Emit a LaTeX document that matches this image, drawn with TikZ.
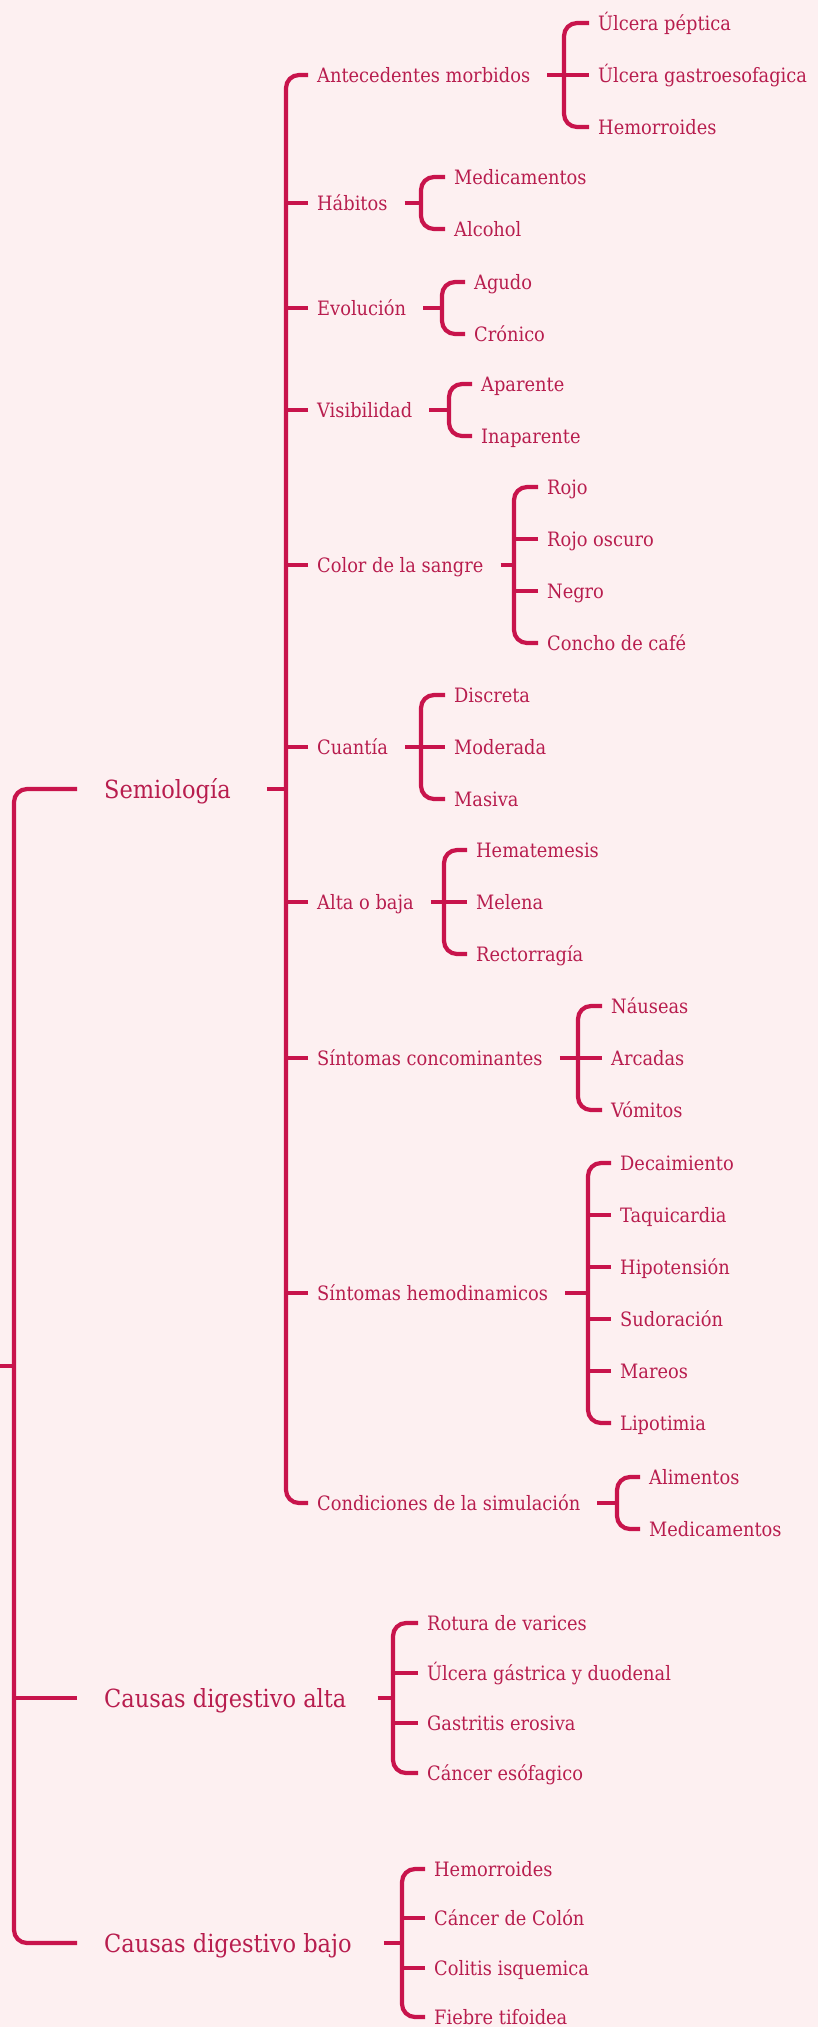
\documentclass[tikz,border=0pt]{standalone}
\usepackage{fontspec}
\setmainfont{DejaVu Serif Condensed}
\usepackage{tikz}
\usetikzlibrary{calc}
\definecolor{crim}{HTML}{C8144C}
\definecolor{crimtext}{HTML}{B81D4E}
\definecolor{paper}{HTML}{FDF0F1}
\tikzset{
  brk/.style={draw=crim, line width=4.2pt, rounded corners=13pt},
  top/.style={anchor=west, inner sep=0pt, text height=18pt, text depth=0pt, text=crimtext, font=\fontsize{25}{29}\selectfont},
  sub/.style={anchor=west, inner sep=0pt, text height=14.5pt, text depth=0pt, text=crimtext, font=\fontsize{19.8}{24}\selectfont},
}

\begin{document}
\begin{tikzpicture}[x=1pt, y=-1pt]
  \fill[paper] (0,0) rectangle (818,2027);
  \useasboundingbox (0,0) rectangle (818,2027);

  % root
  \coordinate (root) at (0,1366);
  \coordinate (root-b) at (14,1366);
  \node[top] (sem) at (104,789) {Semiología};
  \node[top] (alta) at (104,1698) {Causas digestivo alta};
  \node[top] (bajo) at (104,1943) {Causas digestivo bajo};
  \draw[brk] (root) -- (root-b);
  \draw[brk] ([xshift=-27]sem.west) -| (root-b) |- ([xshift=-27]bajo.west);
  \draw[brk] ([xshift=-27]alta.west) -- (root-b |- alta.west);

  % Semiologia
  \coordinate (sem-b) at (286,789);
  \foreach \n/\y/\t in {ant/75/Antecedentes morbidos, hab/203/Hábitos, evo/308/Evolución,
      vis/410/Visibilidad, col/565/Color de la sangre, cua/747/Cuantía, alt/902/Alta o baja,
      sin/1058/Síntomas concominantes, hem/1293/Síntomas hemodinamicos,
      con/1503/Condiciones de la simulación}
    \node[sub] (\n) at (317,\y) {\t};
  \draw[brk] ([xshift=36]sem.east) -- (sem-b);
  \draw[brk] ([xshift=-9]ant.west) -| (sem-b) |- ([xshift=-9]con.west);
  \foreach \n in {hab,evo,vis,col,cua,alt,sin,hem}
    \draw[brk] ([xshift=-9]\n.west) -- (sem-b |- \n.west);

  % Antecedentes
  \coordinate (ant-b) at (564,75);
  \foreach \y/\t [count=\i] in {23/Úlcera péptica, 75/Úlcera gastroesofagica, 127/Hemorroides}
    \node[sub] (ant-\i) at (598,\y) {\t};
  \draw[brk] ([xshift=17]ant.east) -- (ant-b);
  \draw[brk] ([xshift=-9]ant-1.west) -| (ant-b) |- ([xshift=-9]ant-3.west);
  \draw[brk] ([xshift=-9]ant-2.west) -- (ant-b |- ant-2.west);

  % Habitos
  \coordinate (hab-b) at (421,203);
  \foreach \y/\t [count=\i] in {177/Medicamentos, 229/Alcohol}
    \node[sub] (hab-\i) at (454,\y) {\t};
  \draw[brk] ([xshift=17]hab.east) -- (hab-b);
  \draw[brk] ([xshift=-9]hab-1.west) -| (hab-b) |- ([xshift=-9]hab-2.west);

  % Evolucion
  \coordinate (evo-b) at (442,308);
  \foreach \y/\t [count=\i] in {282/Agudo, 334/Crónico}
    \node[sub] (evo-\i) at (474,\y) {\t};
  \draw[brk] ([xshift=17]evo.east) -- (evo-b);
  \draw[brk] ([xshift=-9]evo-1.west) -| (evo-b) |- ([xshift=-9]evo-2.west);

  % Visibilidad
  \coordinate (vis-b) at (449,410);
  \foreach \y/\t [count=\i] in {384/Aparente, 436/Inaparente}
    \node[sub] (vis-\i) at (481,\y) {\t};
  \draw[brk] ([xshift=17]vis.east) -- (vis-b);
  \draw[brk] ([xshift=-9]vis-1.west) -| (vis-b) |- ([xshift=-9]vis-2.west);

  % Color de la sangre
  \coordinate (col-b) at (514,565);
  \foreach \y/\t [count=\i] in {487/Rojo, 539/Rojo oscuro, 591/Negro, 643/Concho de café}
    \node[sub] (col-\i) at (547,\y) {\t};
  \draw[brk] ([xshift=17]col.east) -- (col-b);
  \draw[brk] ([xshift=-9]col-1.west) -| (col-b) |- ([xshift=-9]col-4.west);
  \foreach \i in {2,3}
    \draw[brk] ([xshift=-9]col-\i.west) -- (col-b |- col-\i.west);

  % Cuantia
  \coordinate (cua-b) at (421,747);
  \foreach \y/\t [count=\i] in {695/Discreta, 747/Moderada, 799/Masiva}
    \node[sub] (cua-\i) at (454,\y) {\t};
  \draw[brk] ([xshift=17]cua.east) -- (cua-b);
  \draw[brk] ([xshift=-9]cua-1.west) -| (cua-b) |- ([xshift=-9]cua-3.west);
  \draw[brk] ([xshift=-9]cua-2.west) -- (cua-b |- cua-2.west);

  % Alta o baja
  \coordinate (alt-b) at (444,902);
  \foreach \y/\t [count=\i] in {850/Hematemesis, 902/Melena, 954/Rectorragía}
    \node[sub] (alt-\i) at (476,\y) {\t};
  \draw[brk] ([xshift=17]alt.east) -- (alt-b);
  \draw[brk] ([xshift=-9]alt-1.west) -| (alt-b) |- ([xshift=-9]alt-3.west);
  \draw[brk] ([xshift=-9]alt-2.west) -- (alt-b |- alt-2.west);

  % Sintomas concominantes
  \coordinate (sin-b) at (578,1058);
  \foreach \y/\t [count=\i] in {1006/Náuseas, 1058/Arcadas, 1110/Vómitos}
    \node[sub] (sin-\i) at (611,\y) {\t};
  \draw[brk] ([xshift=17]sin.east) -- (sin-b);
  \draw[brk] ([xshift=-9]sin-1.west) -| (sin-b) |- ([xshift=-9]sin-3.west);
  \draw[brk] ([xshift=-9]sin-2.west) -- (sin-b |- sin-2.west);

  % Sintomas hemodinamicos
  \coordinate (hem-b) at (588,1293);
  \foreach \y/\t [count=\i] in {1163/Decaimiento, 1215/Taquicardia, 1267/Hipotensión,
      1319/Sudoración, 1371/Mareos, 1423/Lipotimia}
    \node[sub] (hem-\i) at (620,\y) {\t};
  \draw[brk] ([xshift=17]hem.east) -- (hem-b);
  \draw[brk] ([xshift=-9]hem-1.west) -| (hem-b) |- ([xshift=-9]hem-6.west);
  \foreach \i in {2,...,5}
    \draw[brk] ([xshift=-9]hem-\i.west) -- (hem-b |- hem-\i.west);

  % Condiciones de la simulacion
  \coordinate (con-b) at (617,1503);
  \foreach \y/\t [count=\i] in {1477/Alimentos, 1529/Medicamentos}
    \node[sub] (con-\i) at (649,\y) {\t};
  \draw[brk] ([xshift=17]con.east) -- (con-b);
  \draw[brk] ([xshift=-9]con-1.west) -| (con-b) |- ([xshift=-9]con-2.west);

  % Causas digestivo alta
  \coordinate (alta-b) at (393,1698);
  \foreach \y/\t [count=\i] in {1623/Rotura de varices, 1673/Úlcera gástrica y duodenal,
      1723/Gastritis erosiva, 1773/Cáncer esófagico}
    \node[sub] (alta-\i) at (427,\y) {\t};
  \draw[brk] ([xshift=31]alta.east) -- (alta-b);
  \draw[brk] ([xshift=-9]alta-1.west) -| (alta-b) |- ([xshift=-9]alta-4.west);
  \foreach \i in {2,3}
    \draw[brk] ([xshift=-9]alta-\i.west) -- (alta-b |- alta-\i.west);

  % Causas digestivo bajo
  \coordinate (bajo-b) at (402,1943);
  \foreach \y/\t [count=\i] in {1869/Hemorroides, 1918/Cáncer de Colón,
      1968/Colitis isquemica, 2017/Fiebre tifoidea}
    \node[sub] (bajo-\i) at (434,\y) {\t};
  \draw[brk] ([xshift=32]bajo.east) -- (bajo-b);
  \draw[brk] ([xshift=-9]bajo-1.west) -| (bajo-b) |- ([xshift=-9]bajo-4.west);
  \foreach \i in {2,3}
    \draw[brk] ([xshift=-9]bajo-\i.west) -- (bajo-b |- bajo-\i.west);
\end{tikzpicture}
\end{document}
